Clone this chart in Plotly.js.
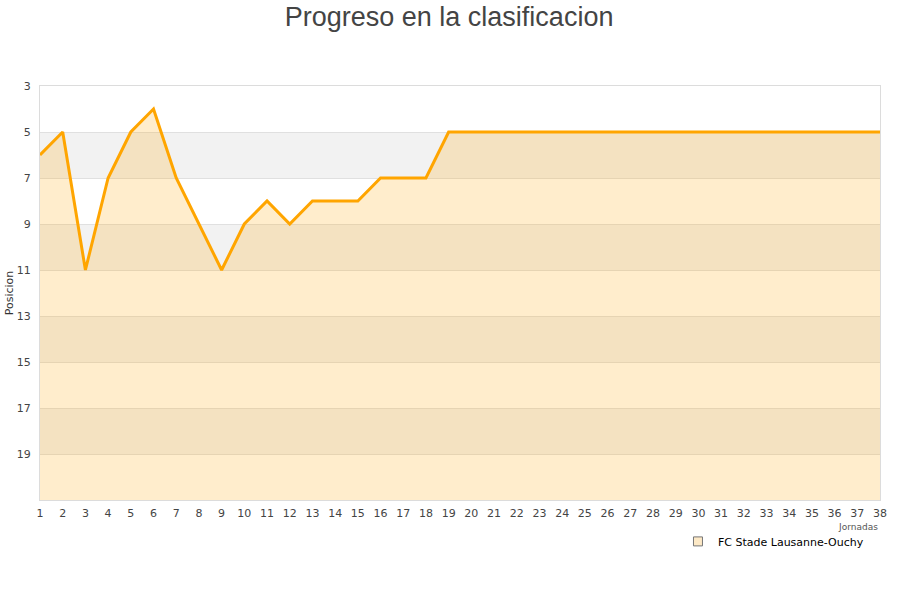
<!DOCTYPE html>
<html>
<head>
<meta charset="utf-8">
<script src="https://cdn.plot.ly/plotly-3.0.1.min.js"></script>
<style>html,body{margin:0;padding:0;background:#fff;}#chart{width:900px;height:600px;}</style>
</head>
<body>
<div id="chart"></div>
<script>
// Jornadas del campeonato y posicion del equipo en cada una
const jornadas = Array.from({length: 38}, (_, i) => i + 1);
const posiciones = [6, 5, 11, 7, 5, 4, 7, 9, 11, 9, 8, 9, 8, 8, 8, 7, 7, 7, 5,
                    5, 5, 5, 5, 5, 5, 5, 5, 5, 5, 5, 5, 5, 5, 5, 5, 5, 5, 5];
const equipo = 'FC Stade Lausanne-Ouchy';
const yTicks = [3, 5, 7, 9, 11, 13, 15, 17, 19];
const ultimaPosicion = 21;
// franjas sombreadas del fondo (desde, hasta)
const franjas = [[5, 7], [9, 11], [13, 15], [17, 19]];

const fondo = {
  x: jornadas, y: jornadas.map(() => ultimaPosicion),
  mode: 'lines', line: {width: 0}, hoverinfo: 'skip', showlegend: false
};
const linea = {
  x: jornadas, y: posiciones, mode: 'lines', fill: 'tonexty',
  fillcolor: 'rgba(255,165,0,0.2)', line: {color: '#ffa500', width: 3},
  name: equipo, showlegend: false
};
const leyenda = {
  x: [null], y: [null], mode: 'markers', name: equipo,
  marker: {symbol: 'square', size: 9, color: '#fde9c6', line: {color: '#777', width: 1}}
};

const shapes = franjas.map(([a, b]) => ({
  type: 'rect', xref: 'paper', x0: 0, x1: 1, yref: 'y', y0: a, y1: b,
  fillcolor: '#f2f2f2', line: {width: 0}, layer: 'below'
}));

const layout = {
  width: 900, height: 600,
  margin: {l: 40, r: 20, t: 86, b: 100},
  paper_bgcolor: '#fff', plot_bgcolor: '#fff',
  title: {text: 'Progreso en la clasificacion', x: 0.499, xanchor: 'center', y: 0.973, yanchor: 'middle',
          font: {family: 'Liberation Sans, Arial, sans-serif', size: 27, color: '#444'}},
  font: {family: 'DejaVu Sans, sans-serif', size: 11, color: '#444'},
  xaxis: {range: [1, 38], tickvals: jornadas, ticktext: jornadas.map(String),
          showgrid: false, zeroline: false, showline: true, mirror: true, linecolor: '#dcdcdc',
          ticks: '', ticklabelstandoff: 3, tickfont: {size: 11, color: '#444'}},
  yaxis: {range: [ultimaPosicion, 3], tickvals: yTicks, ticktext: yTicks.map(String),
          showgrid: true, gridcolor: '#e0e0e0', zeroline: false, showline: true, mirror: true,
          linecolor: '#dcdcdc', ticks: '', ticklabelstandoff: 6,
          title: {text: 'Posicion', standoff: 0, font: {size: 11, color: '#333'}}},
  annotations: [{text: 'Jornadas', xref: 'paper', yref: 'paper', x: 1, y: -0.065,
                 xanchor: 'right', yanchor: 'middle', showarrow: false,
                 font: {size: 9, color: '#555'}}],
  legend: {x: 0.7595, y: -0.1, xanchor: 'left', yanchor: 'middle', bgcolor: 'rgba(0,0,0,0)',
           font: {size: 11, color: '#000'}, itemwidth: 30},
  shapes: shapes,
  showlegend: true
};

Plotly.newPlot('chart', [fondo, linea, leyenda], layout, {displayModeBar: false, staticPlot: true});
</script>
</body>
</html>
